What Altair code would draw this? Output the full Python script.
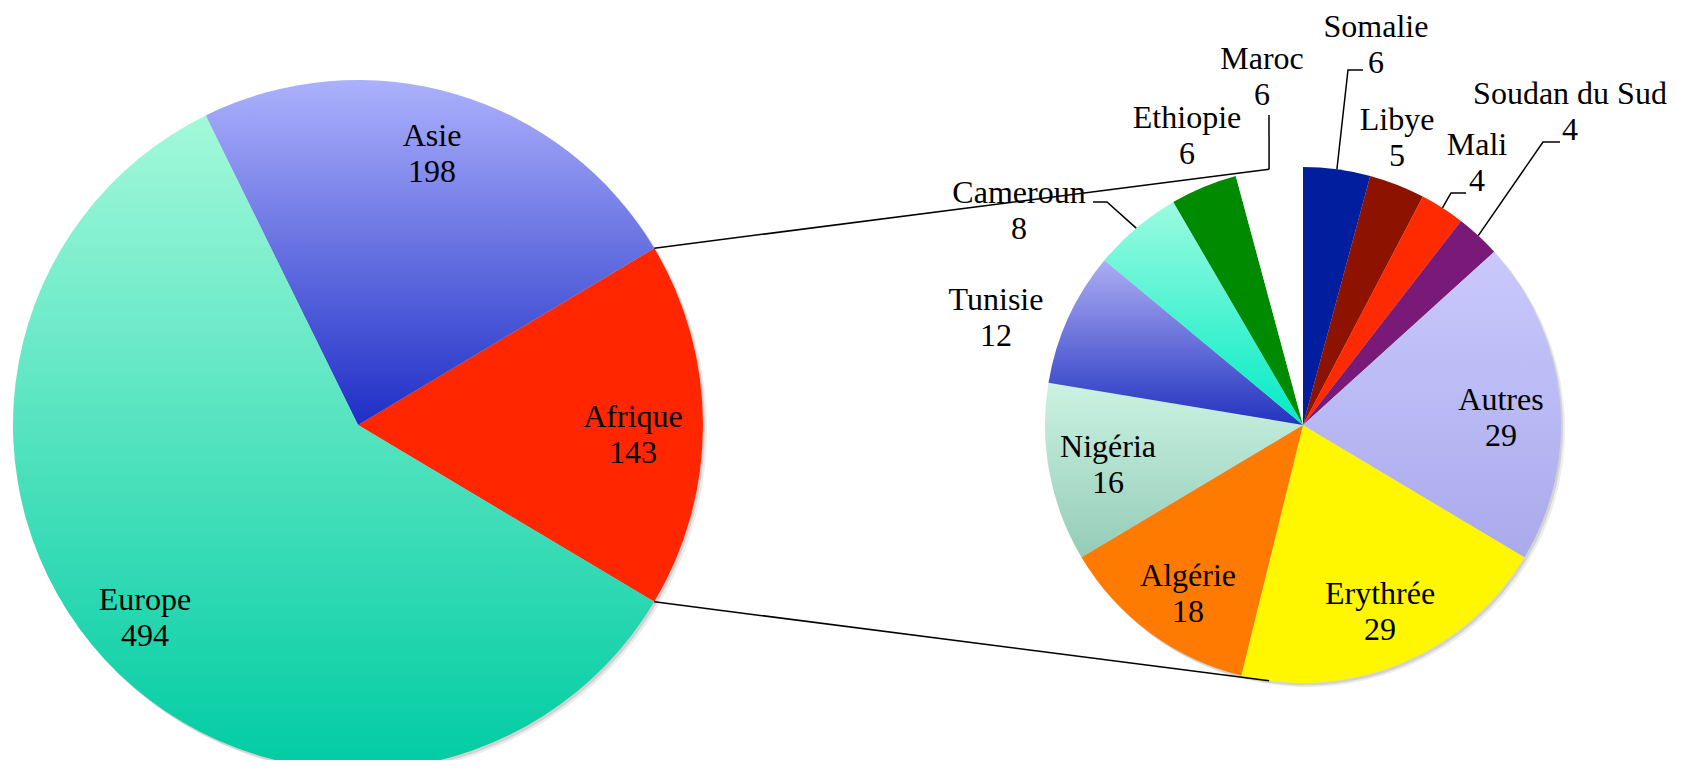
import math
import altair as alt
import pandas as pd

# ---------------- data ----------------
regions = ["Afrique", "Europe", "Asie"]
region_values = [143, 494, 198]

countries = ["Somalie", "Libye", "Mali", "Soudan du Sud", "Autres", "Erythrée",
             "Algérie", "Nigéria", "Tunisie", "Cameroun", "Ethiopie", "Maroc"]
country_values = [6, 5, 4, 4, 29, 29, 18, 16, 12, 8, 6, 6]

# ---------------- layout (chart pixel coordinates) ----------------
W, H = 1665, 752
BIG_CX, BIG_CY, BIG_R = 350, 417, 345
SM_CX, SM_CY, SM_R = 1295, 417, 258
FONT = "Liberation Serif, Times New Roman, serif"
FS = 32
LH = 36
LINE_W = 1.5

# label block centres, relative to their pie centre
big_label_offsets = {"Afrique": (275, 10), "Europe": (-213, 193), "Asie": (74, -271)}
sm_label_offsets = {
    "Somalie": (73, -380), "Libye": (94, -287), "Mali": (174, -262),
    "Soudan du Sud": (267, -313), "Autres": (198, -7), "Erythrée": (77, 187),
    "Algérie": (-115, 169), "Nigéria": (-195, 40), "Tunisie": (-307, -107),
    "Cameroun": (-284, -214), "Ethiopie": (-116, -289), "Maroc": (-41, -348),
}
# leader line bends, relative to small pie centre
leader_bends = {
    "Somalie": [(45, -355), (60, -355)],
    "Mali": [(148, -232), (163, -232)],
    "Soudan du Sud": [(240, -283), (257, -283)],
    "Cameroun": [(-196, -223), (-210, -223)],
    "Maroc": [(-34, -310)],
}

# ---------------- styles ----------------
def grad(top, bottom):
    return alt.Gradient(gradient="linear", x1=0, y1=0, x2=0, y2=1,
                        stops=[alt.GradientStop(color=top, offset=0),
                               alt.GradientStop(color=bottom, offset=1)])

big_solid = {"Afrique": "#FF2600"}
big_grad = {"Asie": ("#ACB1FC", "#1F2FC6"), "Europe": ("#A3F9DA", "#00CCA3")}
sm_solid = {"Somalie": "#001E9E", "Libye": "#8E1200", "Mali": "#FF2A00",
            "Soudan du Sud": "#7A1A78", "Erythrée": "#FFF700", "Algérie": "#FF7A00",
            "Ethiopie": "#008A00", "Maroc": "#FFFFFF"}
sm_grad = {"Autres": ("#C9C9FD", "#AAAAEC"), "Nigéria": ("#CBF2E2", "#94CCB8"),
           "Tunisie": ("#ADADF3", "#2233C0"), "Cameroun": ("#9CFBE0", "#00EBC4")}


# ---------------- derived tables ----------------
def slices(names, values):
    df = pd.DataFrame({"name": names, "value": values})
    df["end"] = df["value"].cumsum()
    df["start"] = df["end"] - df["value"]
    return df


big = slices(regions, region_values)
sm = slices(countries, country_values)
TB = float(big["value"].sum())
TS = float(sm["value"].sum())
big_off = math.pi / 2 - math.pi * region_values[0] / TB  # Afrique centred at 3 o'clock
sm_off = 0.0

big_theta = alt.Scale(domain=[0, TB], range=[big_off, big_off + 2 * math.pi])
sm_theta = alt.Scale(domain=[0, TS], range=[sm_off, sm_off + 2 * math.pi])

XS = alt.Scale(domain=[0, W], nice=False, zero=False)
YS = alt.Scale(domain=[0, H], nice=False, zero=False, reverse=True)


def polar(cx, cy, r, a):
    return cx + r * math.sin(a), cy - r * math.cos(a)


# labels (y of the first line; the block is two lines tall)
lab_rows = []
for n, v in zip(regions, region_values):
    dx, dy = big_label_offsets[n]
    lab_rows.append({"x": BIG_CX + dx, "y": BIG_CY + dy - LH / 2, "label": f"{n}\n{v}"})
for n, v in zip(countries, country_values):
    dx, dy = sm_label_offsets[n]
    lab_rows.append({"x": SM_CX + dx, "y": SM_CY + dy - LH / 2, "label": f"{n}\n{v}"})
labels = pd.DataFrame(lab_rows)

# lines (leaders + connectors)
line_rows = []
for n, bends in leader_bends.items():
    r = sm[sm["name"] == n].iloc[0]
    mid = sm_off + (r["start"] + r["end"]) / 2 / TS * 2 * math.pi
    sx, sy = polar(SM_CX, SM_CY, SM_R, mid)
    pts = [(sx, sy)] + [(SM_CX + bx, SM_CY + by) for bx, by in bends]
    for i, (px, py) in enumerate(pts):
        line_rows.append({"grp": "lead_" + n, "ord": i, "x": px, "y": py})

a1 = big_off
a2 = big_off + 2 * math.pi * region_values[0] / TB
last = sm.iloc[-1]
m_top = sm_off + (last["start"] + last["end"]) / 2 / TS * 2 * math.pi
m_bot = math.pi - m_top
for g, (ab, asm) in {"conn_top": (a1, m_top), "conn_bot": (a2, m_bot)}.items():
    p0 = polar(BIG_CX, BIG_CY, BIG_R, ab)
    p1 = polar(SM_CX, SM_CY, SM_R, asm)
    line_rows.append({"grp": g, "ord": 0, "x": p0[0], "y": p0[1]})
    line_rows.append({"grp": g, "ord": 1, "x": p1[0], "y": p1[1]})
lines = pd.DataFrame(line_rows)


# ---------------- layers ----------------
def arc_enc(scale, cx, cy):
    return dict(theta=alt.Theta("start:Q", scale=scale), theta2="end:Q",
                x=alt.value(cx), y=alt.value(cy))


layers = []
# soft shadows
for (dx, dy, col) in [(4, 4, "#ECECEC"), (2, 2.5, "#D2D2D2")]:
    layers.append(alt.Chart(big).mark_arc(radius=BIG_R, fill=col).encode(
        **arc_enc(big_theta, BIG_CX + dx, BIG_CY + dy)))
    layers.append(alt.Chart(sm).mark_arc(radius=SM_R, fill=col).encode(
        **arc_enc(sm_theta, SM_CX + dx, SM_CY + dy)))

# big pie
for n, c in big_solid.items():
    layers.append(alt.Chart(big).transform_filter(alt.datum.name == n)
                  .mark_arc(radius=BIG_R, fill=c).encode(**arc_enc(big_theta, BIG_CX, BIG_CY)))
for n, (t, b) in big_grad.items():
    layers.append(alt.Chart(big).transform_filter(alt.datum.name == n)
                  .mark_arc(radius=BIG_R, fill=grad(t, b)).encode(**arc_enc(big_theta, BIG_CX, BIG_CY)))

# small pie
layers.append(alt.Chart(sm).transform_filter(
    alt.FieldOneOfPredicate(field="name", oneOf=list(sm_solid.keys())))
    .mark_arc(radius=SM_R).encode(
        fill=alt.Fill("name:N", scale=alt.Scale(domain=list(sm_solid.keys()),
                                                range=list(sm_solid.values())), legend=None),
        **arc_enc(sm_theta, SM_CX, SM_CY)))
for n, (t, b) in sm_grad.items():
    layers.append(alt.Chart(sm).transform_filter(alt.datum.name == n)
                  .mark_arc(radius=SM_R, fill=grad(t, b)).encode(**arc_enc(sm_theta, SM_CX, SM_CY)))

# lines
layers.append(alt.Chart(lines).mark_line(color="black", strokeWidth=LINE_W).encode(
    x=alt.X("x:Q", scale=XS, axis=None), y=alt.Y("y:Q", scale=YS, axis=None),
    detail="grp:N", order="ord:Q"))

# labels
layers.append(alt.Chart(labels).mark_text(
    font=FONT, fontSize=FS, color="black", lineBreak="\n", lineHeight=LH,
    align="center", baseline="middle").encode(
    x=alt.X("x:Q", scale=XS, axis=None), y=alt.Y("y:Q", scale=YS, axis=None),
    text="label:N"))

chart = (alt.layer(*layers)
         .resolve_scale(theta="independent")
         .properties(width=W, height=H, padding=0,
                     autosize=alt.AutoSizeParams(type="none"), background="white")
         .configure_view(stroke=None))

chart.save("out.html", embed_options={"renderer": "svg", "actions": False})
